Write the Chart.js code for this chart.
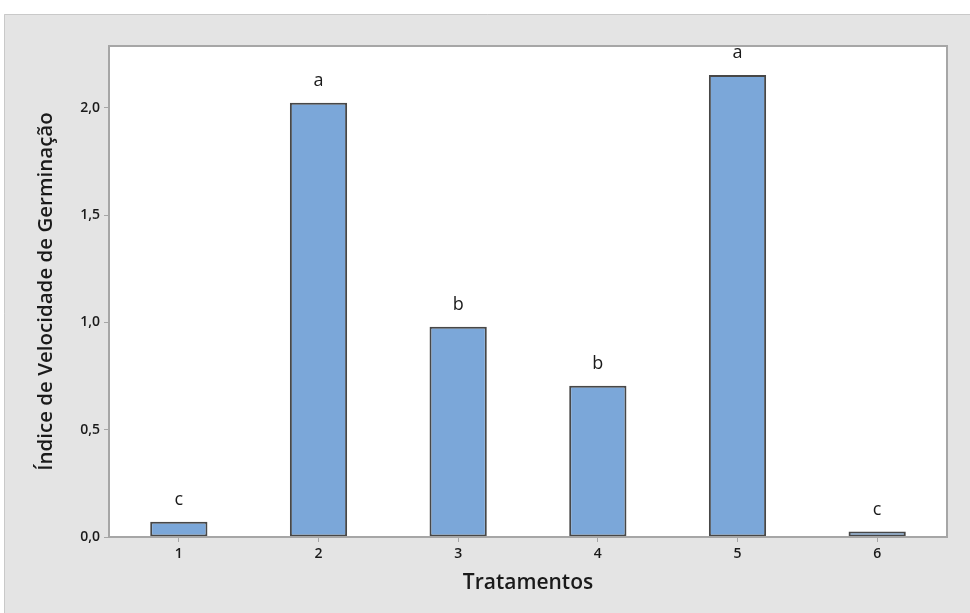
<!DOCTYPE html>
<html>
<head>
<meta charset="utf-8">
<script src="https://cdn.jsdelivr.net/npm/chart.js@4/dist/chart.umd.min.js"></script>
<style>
  html, body { margin: 0; padding: 0; background: #ffffff; }
  #wrap { width: 970px; height: 613px; position: relative; }
</style>
</head>
<body>
<div id="wrap"><canvas id="c" width="970" height="613"></canvas></div>
<script>
// Tratamentos e índice de velocidade de germinação (IVG)
const tratamentos = ['1', '2', '3', '4', '5', '6'];
const ivg = [0.071, 2.024, 0.980, 0.705, 2.154, 0.026];
const letras = ['c', 'a', 'b', 'b', 'a', 'c'];
const yTicks = [0, 0.5, 1.0, 1.5, 2.0];

const FONT = '"Open Sans", "Noto Sans", sans-serif';

// Fundo cinza do painel e área de plotagem branca com moldura
const panelPlugin = {
  id: 'panel',
  beforeDraw(chart) {
    const { ctx, chartArea: a } = chart;
    ctx.save();
    ctx.fillStyle = '#e4e4e4';
    ctx.fillRect(4, 14, 966, 599);
    ctx.strokeStyle = '#c9c9c9';
    ctx.lineWidth = 1;
    ctx.beginPath();
    ctx.moveTo(4.5, 613);
    ctx.lineTo(4.5, 14.5);
    ctx.lineTo(970, 14.5);
    ctx.stroke();
    ctx.fillStyle = '#ffffff';
    ctx.fillRect(a.left, a.top, a.right - a.left, a.bottom - a.top);
    ctx.restore();
  },
  afterDraw(chart) {
    const { ctx, chartArea: a } = chart;
    ctx.save();
    ctx.strokeStyle = '#a6a6a6';
    ctx.lineWidth = 2;
    ctx.strokeRect(a.left, a.top, a.right - a.left, a.bottom - a.top);
    ctx.restore();
  }
};

// Letras de comparação de médias acima das barras
const letrasPlugin = {
  id: 'letras',
  afterDatasetsDraw(chart) {
    const { ctx } = chart;
    const meta = chart.getDatasetMeta(0);
    ctx.save();
    ctx.fillStyle = '#1a1a1a';
    ctx.font = '18px ' + FONT;
    ctx.textAlign = 'center';
    ctx.textBaseline = 'middle';
    meta.data.forEach((bar, i) => {
      ctx.fillText(letras[i], bar.x, bar.y - 22);
    });
    ctx.restore();
  }
};

new Chart(document.getElementById('c'), {
  type: 'bar',
  data: {
    labels: tratamentos,
    datasets: [{
      data: ivg,
      backgroundColor: '#7ba7d9',
      borderColor: '#474747',
      borderWidth: 2,
      borderSkipped: false,
      barPercentage: 0.41,
      categoryPercentage: 1.0
    }]
  },
  options: {
    responsive: false,
    animation: false,
    devicePixelRatio: 1,
    layout: { padding: { top: 46, right: 23, left: 0, bottom: 0 } },
    plugins: { legend: { display: false }, tooltip: { enabled: false } },
    scales: {
      x: {
        offset: true,
        afterFit(scale) { scale.height = 76; },
        grid: { display: true, drawOnChartArea: false, drawTicks: true, tickLength: 5, color: '#a6a6a6', offset: false },
        border: { display: true, color: '#a6a6a6', width: 2 },
        ticks: { color: '#1a1a1a', font: { family: FONT, size: 14, weight: '600' }, padding: 4 },
        title: {
          display: true, text: 'Tratamentos', color: '#1a1a1a',
          font: { family: FONT, size: 21, weight: '600' },
          padding: { top: 0, bottom: 17 }
        }
      },
      y: {
        min: 0, max: 2.289,
        afterFit(scale) { scale.width = 109; },
        afterBuildTicks(scale) { scale.ticks = yTicks.map(v => ({ value: v })); },
        grid: { display: true, drawOnChartArea: false, drawTicks: true, tickLength: 5, color: '#a6a6a6' },
        border: { display: true, color: '#a6a6a6', width: 2 },
        ticks: {
          color: '#1a1a1a', font: { family: FONT, size: 14, weight: '600' }, padding: 4,
          callback: v => v.toFixed(1).replace('.', ',')
        },
        title: {
          display: true, text: 'Índice de Velocidade de Germinação', color: '#1a1a1a',
          font: { family: FONT, size: 20.5, weight: '600' },
          padding: { top: 34, bottom: 0 }
        }
      }
    }
  },
  plugins: [panelPlugin, letrasPlugin]
});
</script>
</body>
</html>
